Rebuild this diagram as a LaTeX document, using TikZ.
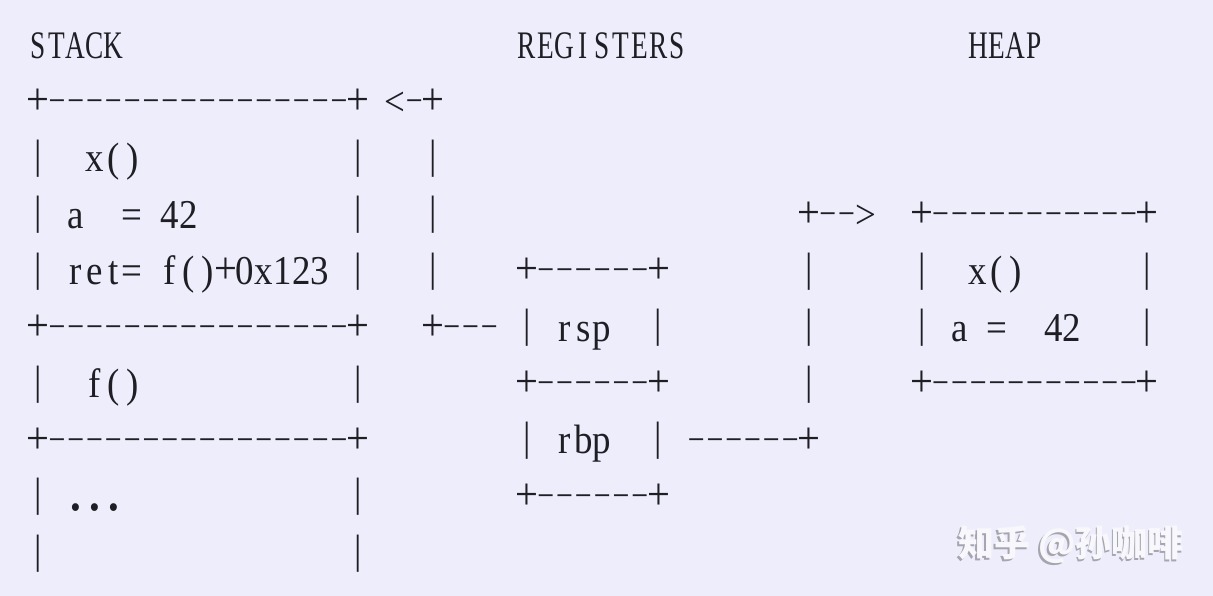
\documentclass[tikz,border=0pt]{standalone}
\usepackage{fontspec}
\usepackage{graphicx}
\setmainfont{Liberation Serif}
\newfontfamily\asciifont[FakeStretch=0.9]{Liberation Serif}
\newfontfamily\titlefont[FakeStretch=0.7]{Liberation Serif}
\newfontfamily\zhfont{Noto Sans CJK SC}
\definecolor{paper}{RGB}{238,237,251}
\definecolor{ink}{RGB}{30,30,36}
\definecolor{markfill}{RGB}{248,248,252}
\definecolor{markshade}{RGB}{165,165,175}

\newlength\cellw
\setlength\cellw{18.8pt}

% one fixed-width cell per character, box glyphs lifted onto the middle line
\ExplSyntaxOn
\NewDocumentCommand\monocells{m}
  {
    \str_map_inline:nn {#1}
      {
        \makebox[\cellw][c]
          {
            \str_case:nnF {##1}
              {
                {-}{\raisebox{8.6pt}{\scalebox{1.45}[0.6]{-}}}
                {+}{\raisebox{\dimexpr13.4pt-0.5\height\relax}{\scalebox{1.1}{+}}}
                {|}{\raisebox{3.3pt}{|}}
                {.}{\scalebox{1.6}{.}}
              }
              {##1}
          }
      }
  }
\ExplSyntaxOff

% text at column #3, row #4 of the character grid
\newcommand\asciiat[5][]{\node[ascii,#1] (#2) at ({28.8+18.8*#3},{59+56.4*#4}) {\monocells{#5}};}

\begin{document}
\begin{tikzpicture}[x=1pt,y=-1pt,
    ascii/.style={anchor=base west,inner sep=0,outer sep=0,text=ink,
        font={\asciifont\fontsize{41pt}{41pt}\selectfont}},
    title/.style={font={\titlefont\fontsize{39pt}{39pt}\selectfont}},
    wmark/.style={inner sep=0,font={\zhfont\bfseries\fontsize{36pt}{36pt}\selectfont}},
    ]
    % Background
    \fill[paper] (0,0) rectangle (1213,596);
    \useasboundingbox (0,0) rectangle (1213,596);

    % Titles
    \asciiat[title]{stack-title}{0}{0}{STACK}
    \asciiat[title]{reg-title}{26}{0}{REGISTERS}
    \asciiat[title]{heap-title}{50}{0}{HEAP}

    % Stack frames
    \asciiat{stack-top}{0}{1}{+----------------+}
    \asciiat{x-left}{0}{2}{|}
    \asciiat{x-name}{3}{2}{x()}
    \asciiat{x-right}{17}{2}{|}
    \asciiat{a-left}{0}{3}{| a}
    \asciiat{a-value}{5}{3}{= 42}
    \asciiat{a-right}{17}{3}{|}
    \asciiat{ret-row}{0}{4}{| ret= f()+0x123 |}
    \asciiat{x-bottom}{0}{5}{+----------------+}
    \asciiat{f-left}{0}{6}{|}
    \asciiat{f-name}{3}{6}{f()}
    \asciiat{f-right}{17}{6}{|}
    \asciiat{f-bottom}{0}{7}{+----------------+}
    \asciiat{dots-left}{0}{8}{| ...}
    \asciiat{dots-right}{17}{8}{|}
    \asciiat{rest-left}{0}{9}{|}
    \asciiat{rest-right}{17}{9}{|}

    % rsp points back to the stack top
    \asciiat{rsp-head}{19}{1}{<-+}
    \foreach \r in {2,3,4} {\asciiat{rsp-line-\r}{21}{\r}{|}}
    \asciiat{rsp-tail}{21}{5}{+---}

    % Registers
    \asciiat{reg-top}{26}{4}{+------+}
    \asciiat{rsp}{26}{5}{| rsp}
    \asciiat{rsp-right}{33}{5}{|}
    \asciiat{reg-mid}{26}{6}{+------+}
    \asciiat{rbp}{26}{7}{| rbp}
    \asciiat{rbp-right}{33}{7}{|}
    \asciiat{reg-bottom}{26}{8}{+------+}

    % rbp points to the heap
    \asciiat{rbp-tail}{35}{7}{------+}
    \foreach \r in {4,5,6} {\asciiat{rbp-line-\r}{41}{\r}{|}}
    \asciiat{rbp-head}{41}{3}{+-->}

    % Heap
    \asciiat{heap-top}{47}{3}{+-----------+}
    \asciiat{hx-left}{47}{4}{|}
    \asciiat{hx-name}{50}{4}{x()}
    \asciiat{hx-right}{59}{4}{|}
    \asciiat{ha-left}{47}{5}{| a =}
    \asciiat{ha-value}{54}{5}{42}
    \asciiat{ha-right}{59}{5}{|}
    \asciiat{heap-bottom}{47}{6}{+-----------+}

    % Watermark
    \node[wmark,text=markshade] (watermark-shade) at (1069.5,546.5) {知乎 @孙咖啡};
    \node[wmark,text=markfill] (watermark) at (1071,545) {知乎 @孙咖啡};
\end{tikzpicture}
\end{document}
